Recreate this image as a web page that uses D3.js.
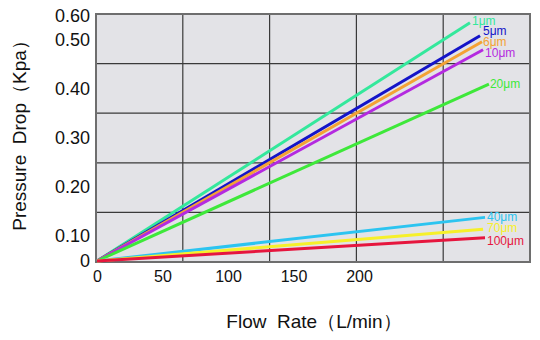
<!DOCTYPE html>
<html><head><meta charset="utf-8">
<script src="https://cdn.jsdelivr.net/npm/d3@7"></script>
<style>
html,body{margin:0;padding:0;background:#fff;}
svg{display:block;font-family:"Liberation Sans",Arial,sans-serif;}
</style></head>
<body>
<svg id="chart" width="540" height="340"></svg>
<script>
// ---- data ----
const series = ["1μm","5μm","6μm","10μm","20μm","40μm","70μm","100μm"];
const endFlow = [284.7, 292.4, 293.9, 294.7, 299.2, 296.2, 294.7, 296.2];
const endPressure = [0.572, 0.518, 0.4965, 0.480, 0.410, 0.138, 0.114, 0.093];
const colors = ["#34e89c","#1414c8","#f4a234","#b42ae0","#3ee83a","#2cc4f0","#f6f02a","#e6163e"];
const xTicks = [0, 50, 100, 150, 200];
const yTicks = [0, 0.1, 0.2, 0.3, 0.4, 0.5, 0.6];
const yTickLabels = ["0","0.10","0.20","0.30","0.40","0.50","0.60"];

// ---- layout ----
const svg = d3.select("#chart");
const plot = {left: 96, right: 530, top: 14, bottom: 262};

const x = d3.scaleLinear().domain([0, 200]).range([97, 359]);
const y = d3.scaleLinear().domain([0, 0.1, 0.5, 0.6]).range([261, 236, 40, 16]);

// plot background
svg.append("rect")
  .attr("x", plot.left).attr("y", plot.top)
  .attr("width", plot.right - plot.left).attr("height", plot.bottom - plot.top)
  .attr("fill", "#e3e3e7");

// grid: 5 equal columns and 5 equal rows
const nCols = 5, nRows = 5;
const gx = d3.range(1, nCols).map(i => plot.left + (plot.right - plot.left) * i / nCols);
const gy = d3.range(1, nRows).map(i => plot.top + (plot.bottom - plot.top) * i / nRows);
svg.selectAll(".gv").data(gx).enter().append("line")
  .attr("x1", d => d).attr("x2", d => d).attr("y1", plot.top).attr("y2", plot.bottom)
  .attr("stroke", "#3a3a3a").attr("stroke-width", 1.2);
svg.selectAll(".gh").data(gy).enter().append("line")
  .attr("y1", d => d).attr("y2", d => d).attr("x1", plot.left).attr("x2", plot.right)
  .attr("stroke", "#3a3a3a").attr("stroke-width", 1.2);
svg.append("rect")
  .attr("x", plot.left).attr("y", plot.top)
  .attr("width", plot.right - plot.left).attr("height", plot.bottom - plot.top)
  .attr("fill", "none").attr("stroke", "#6e6e6e").attr("stroke-width", 2);

// axes (labels only)
const xAxis = svg.append("g").attr("transform", `translate(0,${plot.bottom})`)
  .call(d3.axisBottom(x).tickValues(xTicks).tickFormat(d3.format("d")).tickSize(0).tickPadding(9));
xAxis.select(".domain").remove();
xAxis.selectAll("text").attr("font-size", 16).attr("fill", "#111")
  .attr("font-family", "Liberation Sans, Arial, sans-serif");

const yAxis = svg.append("g").attr("transform", `translate(${plot.left},0)`)
  .call(d3.axisLeft(y).tickValues(yTicks).tickFormat((d, i) => yTickLabels[i]).tickSize(0).tickPadding(6));
yAxis.select(".domain").remove();
yAxis.selectAll("text").attr("font-size", 18).attr("fill", "#111")
  .attr("font-family", "Liberation Sans, Arial, sans-serif");

// lines
const rows = series.map((s, i) => ({name: s, color: colors[i],
  pts: [[0, 0], [endFlow[i], endPressure[i]]]}));
const line = d3.line().x(d => x(d[0])).y(d => y(d[1]));
svg.selectAll(".series").data(rows).enter().append("path")
  .attr("d", d => line(d.pts))
  .attr("fill", "none").attr("stroke", d => d.color).attr("stroke-width", 3);

// labels at ends
const nudge = {"1μm":[2,-2],"5μm":[3,-5],"6μm":[1,0],"10μm":[2,3],"20μm":[1,0],"40μm":[2,-1],"70μm":[4,-1],"100μm":[2,3]};
svg.selectAll(".lbl").data(rows).enter().append("text")
  .attr("x", d => x(d.pts[1][0]) + nudge[d.name][0])
  .attr("y", d => y(d.pts[1][1]) + nudge[d.name][1])
  .attr("dy", "0.35em")
  .attr("font-size", 12).attr("fill", d => d.color)
  .text(d => d.name);

// axis titles
svg.append("text").attr("x", 314).attr("y", 328).attr("text-anchor", "middle")
  .attr("font-size", 19).attr("fill", "#111").style("white-space", "pre")
  .text("Flow  Rate（L/min）");
svg.append("text").attr("transform", "translate(26,131) rotate(-90)")
  .attr("text-anchor", "middle").attr("font-size", 19).attr("fill", "#111")
  .style("white-space", "pre")
  .text("Pressure  Drop（Kpa）");
</script>
</body></html>
